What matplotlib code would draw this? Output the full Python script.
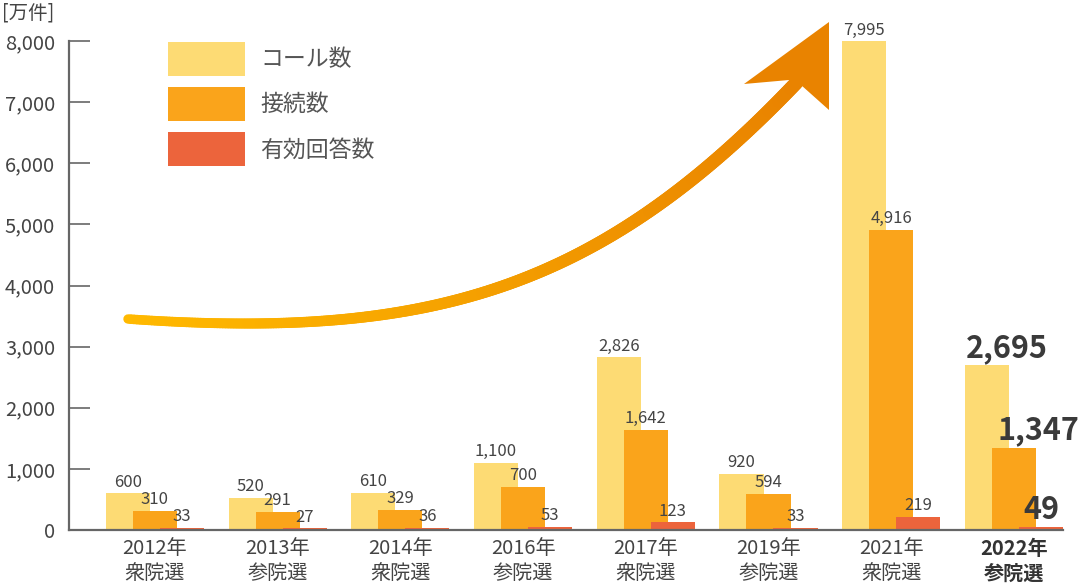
import numpy as np
import matplotlib
matplotlib.use("Agg")
import matplotlib.pyplot as plt
from matplotlib.collections import LineCollection
from matplotlib.patches import Polygon
from matplotlib.colors import to_rgb

plt.rcParams['font.family'] = ['Noto Sans CJK JP', 'DejaVu Sans']

# data
elections = ["2012年\n衆院選", "2013年\n参院選", "2014年\n衆院選", "2016年\n参院選",
             "2017年\n衆院選", "2019年\n参院選", "2021年\n衆院選", "2022年\n参院選"]
calls = [600, 520, 610, 1100, 2826, 920, 7995, 2695]
connected = [310, 291, 329, 700, 1642, 594, 4916, 1347]
answered = [33, 27, 36, 53, 123, 33, 219, 49]
series_names = ["コール数", "接続数", "有効回答数"]
colors = ["#FDDB74", "#FAA41B", "#EC643C"]
yticks = [0, 1000, 2000, 3000, 4000, 5000, 6000, 7000, 8000]


def main():
    W, H = 1078, 587
    fig = plt.figure(figsize=(W / 100, H / 100), dpi=100)
    ax = fig.add_axes([69 / W, 57 / H, (1063 - 69) / W, (530 - 41) / H])

    x = np.arange(len(elections))
    off = 0.22
    width = 0.359
    bars = []
    for k, vals in enumerate([calls, connected, answered]):
        b = ax.bar(x + (k - 1) * off, vals, width, color=colors[k], linewidth=0,
                   label=series_names[k], zorder=2 + k)
        bars.append(b)

    ax.set_xlim(-0.70, 7.40)
    ax.set_ylim(0, 8000)
    ax.set_yticks(yticks)
    ax.set_yticklabels([f"{v:,}" for v in yticks])
    ax.set_xticks(x)
    ax.set_xticklabels(elections, linespacing=1.2)
    for sp in ["top", "right"]:
        ax.spines[sp].set_visible(False)
    for sp in ["left", "bottom"]:
        ax.spines[sp].set_color("#666666")
        ax.spines[sp].set_linewidth(1.6)
        ax.spines[sp].set_zorder(10)
    ax.tick_params(axis="y", direction="in", length=15, width=1.2, color="#666666",
                   labelsize=14.5, labelcolor="#444444", pad=10)
    ax.tick_params(axis="x", length=0, labelsize=14.5, labelcolor="#444444", pad=6)
    lab = ax.get_xticklabels()[-1]
    lab.set_fontweight("bold")
    lab.set_color("#333333")

    # value labels
    n = len(elections)
    for k, vals in enumerate([calls, connected, answered]):
        for i, v in enumerate(vals):
            xc = i + (k - 1) * off
            if i == n - 1:
                if k < 2:
                    ax.annotate(f"{v:,}", (xc - width / 2, v), xytext=(1 + 3 * k, 1),
                                textcoords="offset points", ha="left", va="bottom",
                                fontsize=22, fontweight="bold", color="#3a3a3a", zorder=20)
                else:
                    ax.annotate(f"{v:,}", (xc, v), xytext=(0, 1),
                                textcoords="offset points", ha="center", va="bottom",
                                fontsize=22, fontweight="bold", color="#3a3a3a", zorder=20)
            else:
                ax.annotate(f"{v:,}", (xc, v), xytext=(0, 2),
                            textcoords="offset points", ha="center", va="bottom",
                            fontsize=12, color="#444444", zorder=20)

    leg = ax.legend(handles=bars, loc="upper left", bbox_to_anchor=(168 / W, 1 - 42 / H),
                    bbox_transform=fig.transFigure, frameon=False, borderpad=0,
                    borderaxespad=0, fontsize=16.5, handlelength=3.36, handleheight=1.88,
                    labelspacing=0.5, handletextpad=0.65)
    for t in leg.get_texts():
        t.set_color("#555555")

    fig.text(2 / W, 1 - 13 / H, "[万件]", fontsize=14, color="#444444", va="center", ha="left")

    # decorative arrow in pixel space (cubic bezier)
    ov = fig.add_axes([0, 0, 1, 1], zorder=30)
    ov.set_xlim(0, W)
    ov.set_ylim(H, 0)
    ov.axis("off")
    p0, p1, p2, p3 = [np.array(p, dtype=float) for p in
                      [(128, 319), (428, 340), (597, 292), (797, 82)]]
    t = np.linspace(0, 1, 300)[:, None]
    curve = ((1 - t) ** 3) * p0 + 3 * ((1 - t) ** 2) * t * p1 + 3 * (1 - t) * t ** 2 * p2 + t ** 3 * p3
    segs = np.stack([curve[:-1], curve[1:]], axis=1)
    f = np.linspace(0, 1, len(segs))
    c0, c1 = np.array(to_rgb("#FFB900")), np.array(to_rgb("#E98300"))
    cols = [tuple(c0 + (c1 - c0) * v) for v in f]
    lws = 6.8 + 3.2 * f
    lc = LineCollection(segs, colors=cols, linewidths=lws, capstyle="round")
    ov.add_collection(lc)
    head = Polygon([(829, 22), (744, 84), (789, 80), (801, 85), (829, 110)],
                   closed=True, color="#E98300", linewidth=0)
    ov.add_patch(head)

    fig.savefig("out.png", dpi=100)
    return 0


if __name__ == "__main__":
    main()
